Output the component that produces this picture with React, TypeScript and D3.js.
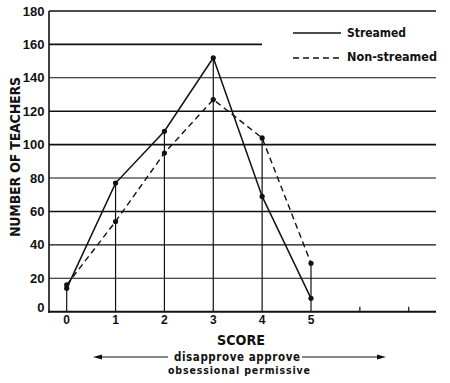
import React from "react";
import * as d3 from "d3";

const scores = [0, 1, 2, 3, 4, 5];
const streamed = [14, 77, 108, 152, 69, 8];
const nonStreamed = [16, 54, 95, 127, 104, 29];
const yTicks = [0, 20, 40, 60, 80, 100, 120, 140, 160, 180];
const extraTicks = [6, 7];
const seriesNames = ["Streamed", "Non-streamed"];

export default function App() {
  const x = d3.scaleLinear().domain([0, 5]).range([66.7, 311]);
  const y = d3.scaleLinear().domain([0, 180]).range([311.7, 11]);
  const left = 49;
  const right = 436;
  const line = d3
    .line<number>()
    .x((_, i) => x(scores[i]))
    .y((d) => y(d));
  const font = "'Liberation Sans', Arial, sans-serif";
  const cfont = "'DejaVu Sans Condensed', 'Liberation Sans', Arial, sans-serif";
  const ink = "#111";
  return (
    <svg width={450} height={383} style={{ position: "absolute", left: 0, top: 0, background: "#fff" }}>
      {/* gridlines */}
      {yTicks.filter((t) => t > 0).map((t) => (
        <line
          key={t}
          x1={left}
          x2={t === 160 ? 262 : right}
          y1={y(t)}
          y2={y(t)}
          stroke={ink}
          strokeWidth={[180, 160, 120, 100, 60].includes(t) ? 1.6 : 1.1}
        />
      ))}
      {/* axes */}
      <line x1={left} x2={left} y1={y(180)} y2={y(0) + 1} stroke={ink} strokeWidth={1.6} />
      <line x1={left - 1} x2={right} y1={y(0)} y2={y(0)} stroke={ink} strokeWidth={2} />
      {extraTicks.map((t) => (
        <line key={t} x1={x(t)} x2={x(t)} y1={y(0)} y2={y(0) - 5} stroke={ink} strokeWidth={1.2} />
      ))}
      {/* drop lines */}
      {scores.map((s, i) => (
        <line
          key={s}
          x1={x(s)}
          x2={x(s)}
          y1={y(Math.max(streamed[i], nonStreamed[i]))}
          y2={y(0)}
          stroke={ink}
          strokeWidth={1.2}
        />
      ))}
      {/* series */}
      <path d={line(streamed) || ""} fill="none" stroke={ink} strokeWidth={1.5} />
      <path d={line(nonStreamed) || ""} fill="none" stroke={ink} strokeWidth={1.4} strokeDasharray="6,4" />
      {scores.map((s, i) => (
        <g key={s}>
          <circle cx={x(s)} cy={y(streamed[i])} r={2.6} fill={ink} />
          <circle cx={x(s)} cy={y(nonStreamed[i])} r={2.6} fill={ink} />
        </g>
      ))}
      {/* y tick labels */}
      {yTicks.map((t) => (
        <text
          key={t}
          x={44.5}
          y={y(t) + 4.5 - (t === 0 ? 4 : 0)}
          textAnchor="end"
          fontFamily={font}
          fontSize={13}
          fontWeight="bold"
          fill={ink}
        >
          {t}
        </text>
      ))}
      {/* x tick labels */}
      {scores.map((s) => (
        <text
          key={s}
          x={x(s)}
          y={y(0) + 12.5}
          textAnchor="middle"
          fontFamily={font}
          fontSize={12}
          fontWeight="bold"
          fill={ink}
        >
          {s}
        </text>
      ))}
      {/* y title */}
      <text
        transform={`translate(19.5, 237) rotate(-90)`}
        fontFamily={cfont}
        fontSize={14}
        fontWeight="bold"
        textLength={160}
        lengthAdjust="spacing"
        fill={ink}
      >
        NUMBER OF TEACHERS
      </text>
      {/* legend */}
      <line x1={293} x2={341} y1={33} y2={33} stroke={ink} strokeWidth={1.5} />
      <text x={347} y={36.5} fontFamily={cfont} fontSize={13} fontWeight="bold" textLength={59} lengthAdjust="spacingAndGlyphs" fill={ink}>
        {seriesNames[0]}
      </text>
      <line x1={293} x2={342} y1={58} y2={58} stroke={ink} strokeWidth={1.4} strokeDasharray="6,4" />
      <text x={347} y={60.5} fontFamily={cfont} fontSize={13} fontWeight="bold" textLength={90} lengthAdjust="spacingAndGlyphs" fill={ink}>
        {seriesNames[1]}
      </text>
      {/* x title */}
      <text x={217} y={345} fontFamily={cfont} fontSize={14} fontWeight="bold" textLength={48} lengthAdjust="spacingAndGlyphs" fill={ink}>
        SCORE
      </text>
      <text x={174} y={361} fontFamily={cfont} fontSize={11.5} fontWeight="bold" textLength={126} lengthAdjust="spacing" fill={ink}>
        disapprove approve
      </text>
      <text x={168} y={374} fontFamily={cfont} fontSize={10.5} fontWeight="bold" textLength={142} lengthAdjust="spacing" fill={ink}>
        obsessional permissive
      </text>
      {/* arrows */}
      <line x1={96} x2={168} y1={357} y2={357} stroke={ink} strokeWidth={1.1} />
      <path d="M93,357 L102,354.5 L102,359.5 Z" fill={ink} />
      <line x1={302} x2={382} y1={357} y2={357} stroke={ink} strokeWidth={1.1} />
      <path d="M386,357 L377,354.5 L377,359.5 Z" fill={ink} />
    </svg>
  );
}
